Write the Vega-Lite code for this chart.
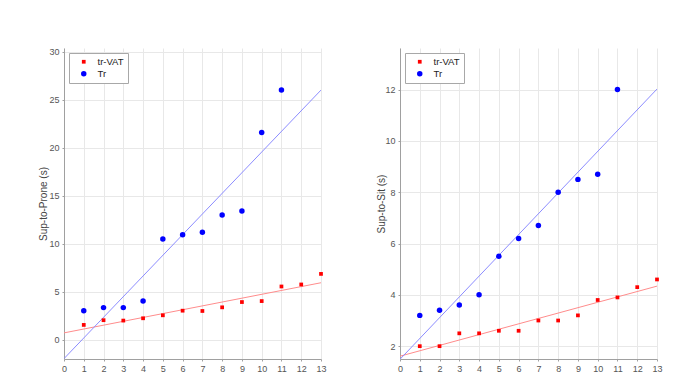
{
  "$schema": "https://vega.github.io/schema/vega-lite/v6.json",
  "padding": {"left": 38, "top": 47, "right": 0, "bottom": 0},
  "background": "white",
  "datasets": {
    "prone": [
      {"x": 1, "y": 1.55, "series": "tr-VAT"},
      {"x": 2, "y": 2.04, "series": "tr-VAT"},
      {"x": 3, "y": 2.0, "series": "tr-VAT"},
      {"x": 4, "y": 2.24, "series": "tr-VAT"},
      {"x": 5, "y": 2.55, "series": "tr-VAT"},
      {"x": 6, "y": 3.03, "series": "tr-VAT"},
      {"x": 7, "y": 3.0, "series": "tr-VAT"},
      {"x": 8, "y": 3.38, "series": "tr-VAT"},
      {"x": 9, "y": 3.93, "series": "tr-VAT"},
      {"x": 10, "y": 4.03, "series": "tr-VAT"},
      {"x": 11, "y": 5.55, "series": "tr-VAT"},
      {"x": 12, "y": 5.76, "series": "tr-VAT"},
      {"x": 13, "y": 6.86, "series": "tr-VAT"},
      {"x": 1, "y": 3.03, "series": "Tr"},
      {"x": 2, "y": 3.35, "series": "Tr"},
      {"x": 3, "y": 3.35, "series": "Tr"},
      {"x": 4, "y": 4.03, "series": "Tr"},
      {"x": 5, "y": 10.5, "series": "Tr"},
      {"x": 6, "y": 10.93, "series": "Tr"},
      {"x": 7, "y": 11.2, "series": "Tr"},
      {"x": 8, "y": 13.0, "series": "Tr"},
      {"x": 9, "y": 13.4, "series": "Tr"},
      {"x": 10, "y": 21.58, "series": "Tr"},
      {"x": 11, "y": 26.0, "series": "Tr"}
    ],
    "proneFitRed": [
      {"x": 0, "y": 0.72},
      {"x": 13, "y": 5.94}
    ],
    "proneFitBlue": [
      {"x": 0, "y": -1.96},
      {"x": 13, "y": 26.0}
    ],
    "sit": [
      {"x": 1, "y": 2.0, "series": "tr-VAT"},
      {"x": 2, "y": 2.0, "series": "tr-VAT"},
      {"x": 3, "y": 2.5, "series": "tr-VAT"},
      {"x": 4, "y": 2.5, "series": "tr-VAT"},
      {"x": 5, "y": 2.6, "series": "tr-VAT"},
      {"x": 6, "y": 2.6, "series": "tr-VAT"},
      {"x": 7, "y": 3.0, "series": "tr-VAT"},
      {"x": 8, "y": 3.0, "series": "tr-VAT"},
      {"x": 9, "y": 3.2, "series": "tr-VAT"},
      {"x": 10, "y": 3.8, "series": "tr-VAT"},
      {"x": 11, "y": 3.9, "series": "tr-VAT"},
      {"x": 12, "y": 4.3, "series": "tr-VAT"},
      {"x": 13, "y": 4.6, "series": "tr-VAT"},
      {"x": 1, "y": 3.2, "series": "Tr"},
      {"x": 2, "y": 3.4, "series": "Tr"},
      {"x": 3, "y": 3.6, "series": "Tr"},
      {"x": 4, "y": 4.0, "series": "Tr"},
      {"x": 5, "y": 5.5, "series": "Tr"},
      {"x": 6, "y": 6.2, "series": "Tr"},
      {"x": 7, "y": 6.7, "series": "Tr"},
      {"x": 8, "y": 8.0, "series": "Tr"},
      {"x": 9, "y": 8.5, "series": "Tr"},
      {"x": 10, "y": 8.7, "series": "Tr"},
      {"x": 11, "y": 12.0, "series": "Tr"}
    ],
    "sitFitRed": [
      {"x": 0, "y": 1.61},
      {"x": 13, "y": 4.34}
    ],
    "sitFitBlue": [
      {"x": 0, "y": 1.49},
      {"x": 13, "y": 12.02}
    ]
  },
  "spacing": 49,
  "hconcat": [
    {
      "width": 257,
      "height": 311,
      "encoding": {
        "x": {"field": "x", "type": "quantitative", "scale": {"domain": [0, 13], "nice": false}, "axis": {"values": [0,1,2,3,4,5,6,7,8,9,10,11,12,13], "title": null, "labelOverlap": false, "labelFlush": false, "labelSeparation": 0, "labelBound": false, "format": "d"}},
        "y": {"field": "y", "type": "quantitative", "scale": {"domain": [-2, 30.38], "nice": false, "zero": false}, "axis": {"values": [0,5,10,15,20,25,30], "title": "Sup-to-Prone (s)", "titleX": -21, "titleY": 155.5, "labelOverlap": false}}
      },
      "layer": [
        {
          "data": {"name": "proneFitRed"},
          "mark": {"type": "line", "strokeWidth": 1, "clip": true, "color": "#ff8c8c"}
        },
        {
          "data": {"name": "proneFitBlue"},
          "mark": {"type": "line", "strokeWidth": 1, "clip": true, "color": "#8c8cff"}
        },
        {
          "data": {"name": "prone"},
          "mark": {"type": "point", "filled": true, "opacity": 1},
          "encoding": {
            "color": {"field": "series", "type": "nominal", "scale": {"domain": ["tr-VAT", "Tr"], "range": ["#ff0000", "#0000ff"]}, "legend": {"title": null, "symbolOffset": 6, "labelOffset": 9}},
            "shape": {"field": "series", "type": "nominal", "scale": {"domain": ["tr-VAT", "Tr"], "range": ["square", "circle"]}, "legend": {"title": null, "symbolOffset": 6, "labelOffset": 9}},
            "size": {"field": "series", "type": "nominal", "scale": {"domain": ["tr-VAT", "Tr"], "range": [14, 30]}, "legend": {"title": null, "symbolOffset": 6, "labelOffset": 9}}
          }
        }
      ]
    },
    {
      "width": 257,
      "height": 311,
      "encoding": {
        "x": {"field": "x", "type": "quantitative", "scale": {"domain": [0, 13], "nice": false}, "axis": {"values": [0,1,2,3,4,5,6,7,8,9,10,11,12,13], "title": null, "labelOverlap": false, "labelFlush": false, "labelSeparation": 0, "labelBound": false, "format": "d"}},
        "y": {"field": "y", "type": "quantitative", "scale": {"domain": [1.5, 13.62], "nice": false, "zero": false}, "axis": {"values": [2,4,6,8,10,12], "title": "Sup-to-Sit (s)", "titleX": -19, "titleY": 155.5, "labelOverlap": false}}
      },
      "layer": [
        {
          "data": {"name": "sitFitRed"},
          "mark": {"type": "line", "strokeWidth": 1, "clip": true, "color": "#ff8c8c"}
        },
        {
          "data": {"name": "sitFitBlue"},
          "mark": {"type": "line", "strokeWidth": 1, "clip": true, "color": "#8c8cff"}
        },
        {
          "data": {"name": "sit"},
          "mark": {"type": "point", "filled": true, "opacity": 1},
          "encoding": {
            "color": {"field": "series", "type": "nominal", "scale": {"domain": ["tr-VAT", "Tr"], "range": ["#ff0000", "#0000ff"]}, "legend": {"title": null, "symbolOffset": 6, "labelOffset": 9}},
            "shape": {"field": "series", "type": "nominal", "scale": {"domain": ["tr-VAT", "Tr"], "range": ["square", "circle"]}, "legend": {"title": null, "symbolOffset": 6, "labelOffset": 9}},
            "size": {"field": "series", "type": "nominal", "scale": {"domain": ["tr-VAT", "Tr"], "range": [14, 30]}, "legend": {"title": null, "symbolOffset": 6, "labelOffset": 9}}
          }
        }
      ]
    }
  ],
  "resolve": {
    "scale": {"color": "independent", "shape": "independent", "size": "independent"},
    "legend": {"color": "independent", "shape": "independent", "size": "independent"}
  },
  "config": {
    "view": {"stroke": null},
    "font": "Liberation Sans",
    "axis": {
      "labelFont": "Liberation Sans",
      "labelFontSize": 9,
      "labelColor": "#555555",
      "titleFont": "Liberation Sans",
      "titleFontSize": 10,
      "titleFontWeight": "normal",
      "titleColor": "#444444",
      "titleBaseline": "middle",
      "titleAlign": "center",
      "ticks": true,
      "tickSize": 2,
      "tickColor": "#a0a0a0",
      "labelPadding": 3,
      "domainColor": "#a0a0a0",
      "domainWidth": 1,
      "gridColor": "#e8e8e8",
      "gridWidth": 1
    },
    "axisX": {"labelPadding": 3, "labelOverlap": false},
    "legend": {
      "orient": "top-left",
      "direction": "vertical",
      "offset": 5,
      "padding": 4,
      "strokeColor": "#a8a8a8",
      "fillColor": "white",
      "labelFont": "Liberation Sans",
      "labelFontSize": 9.5,
      "labelColor": "#222222",
      "symbolStrokeWidth": 0,
      "rowPadding": 1
    }
  }
}
